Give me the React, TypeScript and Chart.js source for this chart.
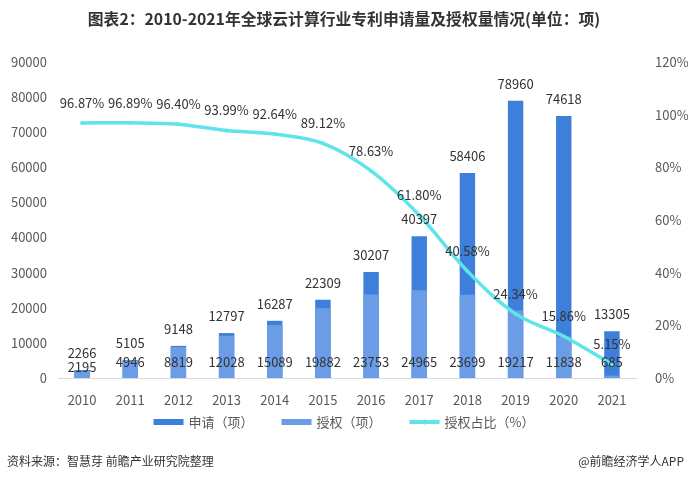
import React, { useEffect, useRef } from "react";
import { Chart, registerables } from "chart.js";

Chart.register(...registerables);

const years = ["2010", "2011", "2012", "2013", "2014", "2015", "2016", "2017", "2018", "2019", "2020", "2021"];
const applications = [2266, 5105, 9148, 12797, 16287, 22309, 30207, 40397, 58406, 78960, 74618, 13305];
const grants = [2195, 4946, 8819, 12028, 15089, 19882, 23753, 24965, 23699, 19217, 11838, 685];
const grantRatio = [96.87, 96.89, 96.4, 93.99, 92.64, 89.12, 78.63, 61.8, 40.58, 24.34, 15.86, 5.15];
const leftTicks = [0, 10000, 20000, 30000, 40000, 50000, 60000, 70000, 80000, 90000];
const rightTicks = [0, 20, 40, 60, 80, 100, 120];

const title = "图表2：2010-2021年全球云计算行业专利申请量及授权量情况(单位：项)";
const seriesNames = ["申请（项）", "授权（项）", "授权占比（%）"];
const sourceText = "资料来源：智慧芽 前瞻产业研究院整理";
const brandText = "@前瞻经济学人APP";

const APP_COLOR = "#3d7fdb";
const GRANT_COLOR = "#6b9ce6";
const LINE_COLOR = "#5ee4e9";
const FONT = "'Noto Sans CJK SC', 'Noto Sans', sans-serif";

const labelPlugin = {
  id: "customLabels",
  afterDatasetsDraw(chart: any) {
    const ctx = chart.ctx;
    const yL = chart.scales.y;
    const yR = chart.scales.y1;
    const x = chart.scales.x;
    const bottom = chart.chartArea.bottom;
    ctx.save();
    ctx.font = `13px ${FONT}`;
    ctx.fillStyle = "#333333";
    ctx.textAlign = "center";
    ctx.textBaseline = "middle";
    years.forEach((_, i) => {
      const cx = x.getPixelForValue(i);
      const appTop = yL.getPixelForValue(applications[i]);
      const appY = appTop - 17;
      ctx.fillText(String(applications[i]), cx, appY);
      let gy = bottom - 16;
      if (gy - appY < 14) gy = appY + 14;
      ctx.fillText(String(grants[i]), cx, gy);
      const py = yR.getPixelForValue(grantRatio[i]);
      ctx.fillText(grantRatio[i].toFixed(2) + "%", cx, py - 20);
    });
    ctx.restore();
  },
  afterDraw(chart: any) {
    const ctx = chart.ctx;
    const w = chart.width;
    ctx.save();
    // title
    ctx.font = `bold 15.8px ${FONT}`;
    ctx.fillStyle = "#333333";
    ctx.textAlign = "center";
    ctx.textBaseline = "middle";
    ctx.fillText(title, w / 2, 19);
    // legend
    ctx.font = `13px ${FONT}`;
    const colors = [APP_COLOR, GRANT_COLOR, LINE_COLOR];
    const boxW = 30;
    const gap = 5;
    const spacing = 28;
    const widths = seriesNames.map((n) => ctx.measureText(n).width);
    const total = widths.reduce((a, b) => a + b, 0) + seriesNames.length * (boxW + gap) + spacing * (seriesNames.length - 1);
    let lx = w / 2 - total / 2;
    const ly = 422;
    ctx.textAlign = "left";
    seriesNames.forEach((n, i) => {
      ctx.fillStyle = colors[i];
      if (i === 2) {
        ctx.fillRect(lx, ly - 2, boxW, 4);
        ctx.beginPath();
        ctx.arc(lx + boxW / 2, ly, 2.5, 0, Math.PI * 2);
        ctx.fill();
      } else {
        ctx.fillRect(lx, ly - 3, boxW, 6);
      }
      ctx.fillStyle = "#595959";
      ctx.fillText(n, lx + boxW + gap, ly);
      lx += boxW + gap + widths[i] + spacing;
    });
    // footer
    ctx.font = `12px ${FONT}`;
    ctx.fillStyle = "#333333";
    ctx.fillText(sourceText, 7, 461);
    ctx.textAlign = "right";
    ctx.fillText(brandText, 684, 461);
    ctx.restore();
  },
};

export default function App() {
  const ref = useRef<HTMLCanvasElement | null>(null);
  useEffect(() => {
    document.body.style.margin = "0";
    if (!ref.current) return;
    const chart = new Chart(ref.current, {
      type: "bar",
      data: {
        labels: years,
        datasets: [
          {
            type: "line",
            label: seriesNames[2],
            data: grantRatio,
            yAxisID: "y1",
            borderColor: LINE_COLOR,
            backgroundColor: LINE_COLOR,
            borderWidth: 3.5,
            pointRadius: 2,
            pointBackgroundColor: LINE_COLOR,
            pointBorderWidth: 0,
            tension: 0.35,
            order: 0,
          } as any,
          {
            type: "bar",
            label: seriesNames[1],
            data: grants,
            yAxisID: "y",
            backgroundColor: GRANT_COLOR,
            grouped: false,
            barPercentage: 0.32,
            categoryPercentage: 1,
            order: 1,
          },
          {
            type: "bar",
            label: seriesNames[0],
            data: applications,
            yAxisID: "y",
            backgroundColor: APP_COLOR,
            grouped: false,
            barPercentage: 0.32,
            categoryPercentage: 1,
            order: 2,
          },
        ],
      },
      plugins: [labelPlugin],
      options: {
        responsive: true,
        maintainAspectRatio: false,
        animation: false,
        layout: { padding: { top: 62, bottom: 74, left: 0, right: 0 } },
        plugins: {
          legend: { display: false },
          title: { display: false },
          tooltip: { enabled: false },
        },
        scales: {
          x: {
            grid: { display: false },
            border: { display: true, color: "#d9d9d9", width: 1 },
            ticks: { color: "#595959", font: { size: 13, family: FONT }, padding: 6 },
            afterFit: (s: any) => { s.height = 30; },
          },
          y: {
            position: "left",
            min: 0,
            max: 90000,
            afterBuildTicks: (s: any) => { s.ticks = leftTicks.map((v) => ({ value: v })); },
            grid: { display: false },
            border: { display: false },
            ticks: { color: "#595959", font: { size: 13, family: FONT }, padding: 3, callback: (v: any) => String(v) },
            afterFit: (s: any) => { s.width = 58; },
          },
          y1: {
            position: "right",
            min: 0,
            max: 120,
            afterBuildTicks: (s: any) => { s.ticks = rightTicks.map((v) => ({ value: v })); },
            grid: { display: false },
            border: { display: false },
            ticks: { color: "#595959", font: { size: 13, family: FONT }, padding: 11, callback: (v: any) => v + "%" },
            afterFit: (s: any) => { s.width = 52; },
          },
        },
      },
    });
    return () => chart.destroy();
  }, []);
  return (
    <div style={{ position: "relative", width: 688, height: 482, background: "#ffffff" }}>
      <canvas ref={ref} />
    </div>
  );
}
